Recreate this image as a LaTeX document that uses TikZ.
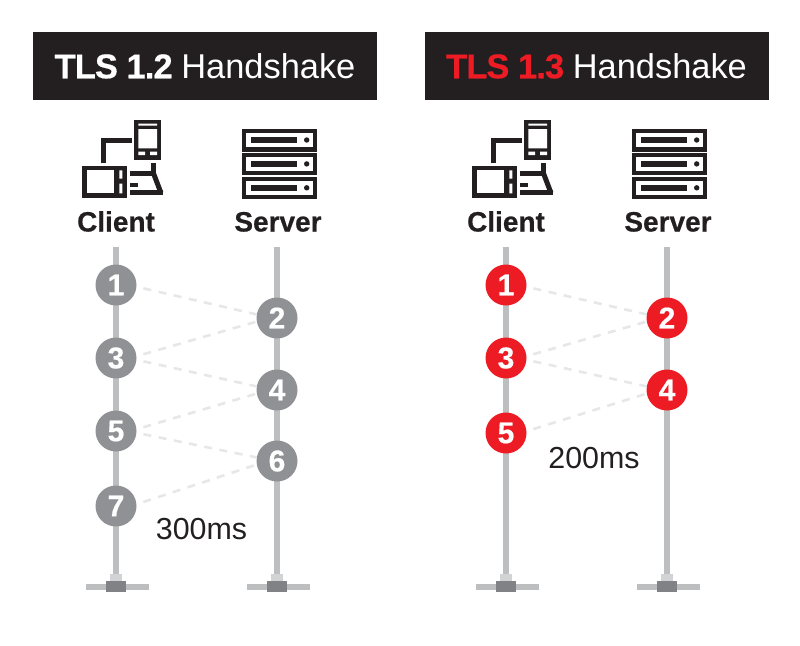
\documentclass[tikz,border=0pt]{standalone}
\usepackage{fontspec}
\setmainfont{Liberation Sans}[BoldFeatures={FakeBold=0.5}]
\definecolor{inkblack}{HTML}{231F20}
\definecolor{railgray}{HTML}{BCBEC0}
\definecolor{dotgray}{HTML}{8F9194}
\definecolor{dotred}{HTML}{ED1C24}
\definecolor{msggray}{HTML}{E6E7E8}
\definecolor{footdark}{HTML}{808285}
\definecolor{footlight}{HTML}{D1D3D4}
\newcommand{\tlsname}[1]{\textbf{\addfontfeature{LetterSpace=-2.5}#1}}
\tikzset{
	banner/.style={fill=inkblack, text=white, minimum width=344pt, minimum height=68pt, inner sep=0pt, font=\fontsize{34.4}{36}\selectfont},
	hostlabel/.style={text=inkblack, inner sep=0pt, anchor=base, font=\bfseries\fontsize{28}{30}\selectfont},
	timelabel/.style={text=inkblack, inner sep=0pt, font=\fontsize{30.4}{32}\selectfont},
	stepdot/.style={circle, fill=#1, text=white, minimum size=41pt, inner sep=0pt, font=\bfseries\fontsize{30}{32}\selectfont},
	rail/.style={railgray, line width=6pt},
	msg/.style={msggray, line width=2.6pt, dash pattern=on 8pt off 7.5pt, shorten <=7pt},
	pics/clienticon/.style={code={
		%monitor
		\fill[inkblack] (-34.3,165.7) rectangle (10.7,198);
		\fill[white] (-29.3,170.3) rectangle (-2,193.3);
		\fill[white] (3.3,170.3) rectangle (6.3,178.7) (3.3,183.5) rectangle (6.3,193.3);
		%phone
		\fill[inkblack] (18.3,120.3) rectangle (45,159.6);
		\fill[white] (22.3,123.5) rectangle (41,125.7) (22.3,129) rectangle (41,148.3);
		\fill[white] (22.3,151.7) rectangle (29,155) (34,151.7) rectangle (41,155);
		%cable and keyboard
		\draw[inkblack, line width=5pt] (-12.8,163.3) -- (-12.8,140.8) -- (15.7,140.8);
		\draw[inkblack, line width=4.5pt] (14,173.7) -- (37.5,173.7) -- (37.5,163);
		\draw[inkblack, line width=5pt] (37,172) -- (45,193);
		\draw[inkblack, line width=4.5pt] (14,192.7) -- (47,192.7);
		\draw[inkblack, line width=4pt] (14,184.7) -- (22.3,184.7);
	}},
	pics/servericon/.style={code={
		\foreach \ytop in {128.7,152.6,176.5}{
			\fill[inkblack] (-35.3,\ytop) rectangle (39.7,\ytop+22.8);
			\fill[white] (-31,\ytop+4.3) rectangle (35.7,\ytop+18.6);
			\fill[inkblack] (-26.3,\ytop+8.6) rectangle (20.3,\ytop+14);
			\fill[inkblack] (29.7,\ytop+11.3) circle(2.7);
		}
	}},
	pics/railfoot/.style={code={
		\fill[footlight] (-6,574) rectangle (6,581);
		\fill[railgray] (-30,584) rectangle (33,590);
		\fill[footdark] (-10,581) rectangle (10,592);
	}}
}
\begin{document}
\begin{tikzpicture}[x=1pt, y=-1pt, line join=miter]
	\useasboundingbox (0,0) rectangle (800,645);
	%%TLS 1.2
	\node[banner] (titleA) at (205,66) {\tlsname{TLS 1.2} Handshake};
	\pic at (116,0) {clienticon};
	\pic at (277,0) {servericon};
	\node[hostlabel] (clientA) at (116,231.5) {Client};
	\node[hostlabel] (serverA) at (278,231.5) {Server};
	\foreach \x/\r in {116/a,277/b} {
		\coordinate (top\r) at (\x,247);
		\coordinate (foot\r) at (\x,580);
		\draw[rail] (top\r) -- (foot\r);
		\pic at (\x,0) {railfoot};
	}
	\foreach \n/\x/\y in {1/116/285,2/277/318,3/116/358,4/277/390,5/116/431,6/277/461,7/116/506}
	\node[stepdot=dotgray] (a\n) at (\x,\y) {\n};
	\foreach \p/\q in {1/2,3/4,5/6}
	\draw[msg] (a\p.-5) -- (a\q.170);
	\foreach \p/\q in {3/2,5/4,7/6}
	\draw[msg] (a\p.5) -- (a\q.190);
	\node[timelabel] (timeA) at (201.5,529) {300ms};
	%%TLS 1.3
	\node[banner] (titleB) at (596.5,66) {\textcolor{dotred}{\tlsname{TLS 1.3}} Handshake};
	\pic at (506,0) {clienticon};
	\pic at (667,0) {servericon};
	\node[hostlabel] (clientB) at (506,231.5) {Client};
	\node[hostlabel] (serverB) at (668,231.5) {Server};
	\foreach \x/\r in {506/c,667/d} {
		\coordinate (top\r) at (\x,247);
		\coordinate (foot\r) at (\x,580);
		\draw[rail] (top\r) -- (foot\r);
		\pic at (\x,0) {railfoot};
	}
	\foreach \n/\x/\y in {1/506/285,2/667/318,3/506/358,4/667/390,5/506/433}
	\node[stepdot=dotred] (b\n) at (\x,\y) {\n};
	\foreach \p/\q in {1/2,3/4}
	\draw[msg] (b\p.-5) -- (b\q.170);
	\foreach \p/\q in {3/2,5/4}
	\draw[msg] (b\p.5) -- (b\q.190);
	\node[timelabel] (timeB) at (594,458) {200ms};
\end{tikzpicture}
\end{document}
